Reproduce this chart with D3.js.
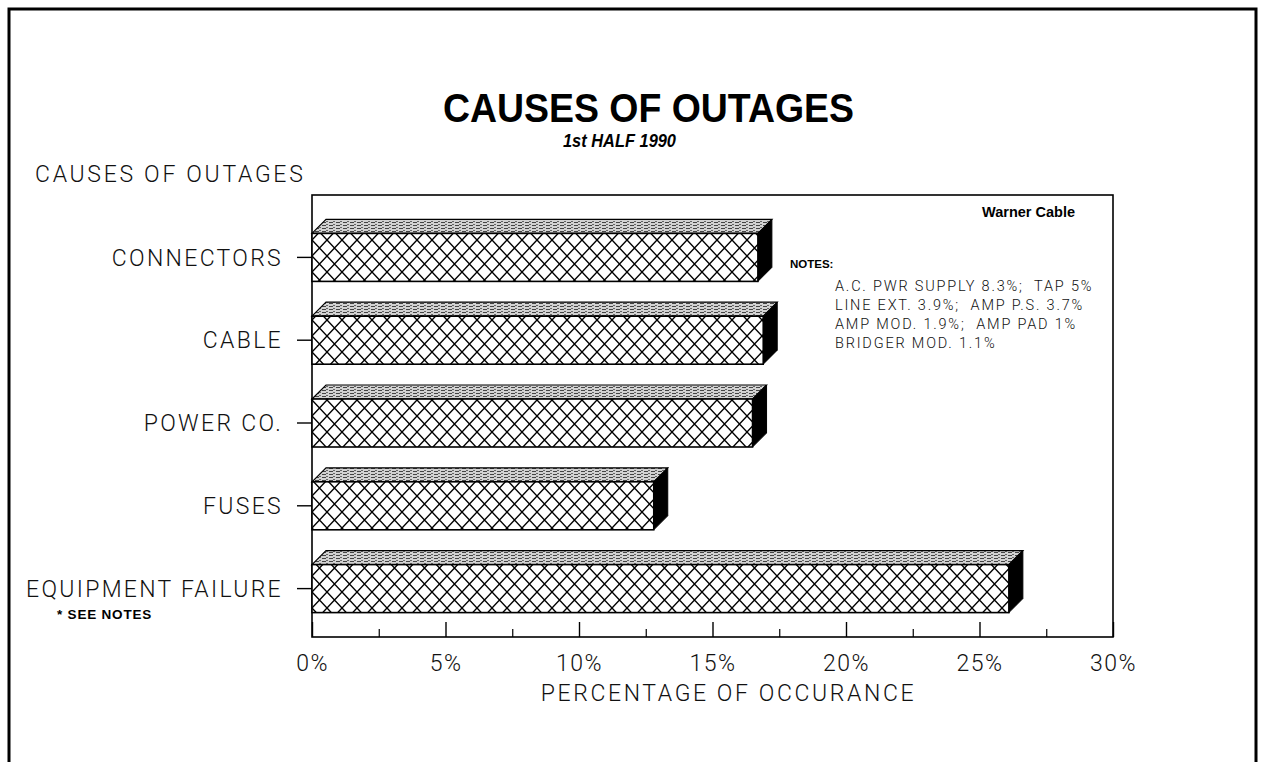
<!DOCTYPE html>
<html>
<head>
<meta charset="utf-8">
<script src="https://cdn.jsdelivr.net/npm/d3@7"></script>
<style>
  html, body { margin: 0; padding: 0; background: #fff; }
  svg { display: block; }
  .thin { font-family: "Roboto", "DejaVu Sans", sans-serif; font-weight: 300; fill: #111; }
  .bold { font-family: "Liberation Sans", Arial, sans-serif; font-weight: bold; fill: #000; }
  .pre { white-space: pre; }
</style>
</head>
<body>
<script>
// Outage causes, share of all outages (%)
const categories = ["CONNECTORS", "CABLE", "POWER CO.", "FUSES", "EQUIPMENT FAILURE"];
const shares = [16.7, 16.9, 16.5, 12.8, 26.1];
const majorTicks = [0, 5, 10, 15, 20, 25, 30];
const minorTicks = [2.5, 7.5, 12.5, 17.5, 22.5, 27.5];
const noteLines = [
  "A.C. PWR SUPPLY 8.3%;  TAP 5%",
  "LINE EXT. 3.9%;  AMP P.S. 3.7%",
  "AMP MOD. 1.9%;  AMP PAD 1%",
  "BRIDGER MOD. 1.1%"
];

const W = 1261, H = 762;
const svg = d3.select("body").append("svg").attr("width", W).attr("height", H);

// Fill patterns: cross-hatch for bar fronts, stipple for bar tops
const defs = svg.append("defs");
const hatch = defs.append("pattern")
  .attr("id", "hatch").attr("patternUnits", "userSpaceOnUse")
  .attr("width", 15).attr("height", 16).attr("x", 312).attr("y", 0);
hatch.append("rect").attr("width", 15).attr("height", 16).attr("fill", "#fff");
hatch.append("path").attr("d", "M0,0 L15,16 M15,0 L0,16")
  .attr("stroke", "#000").attr("stroke-width", 1.4).attr("fill", "none");

const stip = defs.append("pattern")
  .attr("id", "stipple").attr("patternUnits", "userSpaceOnUse")
  .attr("width", 7).attr("height", 3);
stip.append("rect").attr("width", 7).attr("height", 3).attr("fill", "#d2d2d2");
stip.append("rect").attr("x", 0).attr("y", 0).attr("width", 4).attr("height", 1).attr("fill", "#444");
stip.append("rect").attr("x", 4).attr("y", 2).attr("width", 2).attr("height", 1).attr("fill", "#666");

// Page border (open at the bottom)
svg.append("path")
  .attr("d", `M9,${H} L9,9 L1256,9 L1256,${H}`)
  .attr("fill", "none").attr("stroke", "#000").attr("stroke-width", 3);

// Titles
svg.append("text").attr("class", "bold")
  .attr("x", 443).attr("y", 122)
  .attr("font-size", 41).attr("textLength", 411).attr("lengthAdjust", "spacingAndGlyphs")
  .text("CAUSES OF OUTAGES");
svg.append("text").attr("class", "bold")
  .attr("x", 563).attr("y", 147)
  .attr("font-size", 19).attr("font-style", "italic")
  .attr("textLength", 113).attr("lengthAdjust", "spacingAndGlyphs")
  .text("1st HALF 1990");

// Plot area
const plot = { left: 312, right: 1113, top: 195, bottom: 637 };
const x = d3.scaleLinear().domain([0, 30]).range([plot.left, plot.right]);
const y = d3.scaleBand().domain(categories)
  .range([216, 630]).paddingInner(0.42).paddingOuter(0.21);

const frontH = 48, depth = 14;

// Frame
svg.append("rect")
  .attr("x", plot.left).attr("y", plot.top)
  .attr("width", plot.right - plot.left).attr("height", plot.bottom - plot.top)
  .attr("fill", "none").attr("stroke", "#000").attr("stroke-width", 1.6);

// 3-D bars
const bars = svg.append("g").selectAll("g").data(categories).join("g");
bars.each(function (c, i) {
  const g = d3.select(this);
  const cy = y(c) + y.bandwidth() / 2;
  const y0 = cy - frontH / 2, y1 = cy + frontH / 2;
  const x0 = x(0), x1 = x(shares[i]);
  // top face
  g.append("path")
    .attr("d", `M${x0},${y0} L${x0 + depth},${y0 - depth} L${x1 + depth},${y0 - depth} L${x1},${y0} Z`)
    .attr("fill", "url(#stipple)").attr("stroke", "#000").attr("stroke-width", 1.2);
  // side face
  g.append("path")
    .attr("d", `M${x1},${y0} L${x1 + depth},${y0 - depth} L${x1 + depth},${y1 - depth} L${x1},${y1} Z`)
    .attr("fill", "#000").attr("stroke", "#000").attr("stroke-width", 1);
  // front face
  g.append("rect")
    .attr("x", x0).attr("y", y0).attr("width", x1 - x0).attr("height", frontH)
    .attr("fill", "url(#hatch)").attr("stroke", "#000").attr("stroke-width", 1.6);
});

// Category axis
const yAxis = svg.append("g")
  .attr("transform", `translate(${plot.left},0)`)
  .call(d3.axisLeft(y).tickSize(15).tickPadding(14));
yAxis.select(".domain").remove();
yAxis.selectAll("line").attr("stroke", "#000").attr("stroke-width", 1.4);
yAxis.selectAll("text").attr("class", "thin").attr("font-size", 23)
  .attr("letter-spacing", 2.3).attr("fill", "#111").attr("dy", "0.36em");

// Value axis: major and minor ticks pointing up into the frame
const xAxis = svg.append("g")
  .attr("transform", `translate(0,${plot.bottom})`)
  .call(d3.axisBottom(x).tickValues(majorTicks).tickSize(-15).tickPadding(18)
    .tickFormat(d => d + "%"));
xAxis.select(".domain").remove();
xAxis.selectAll("line").attr("stroke", "#000").attr("stroke-width", 1.4);
xAxis.selectAll("text").attr("class", "thin").attr("font-size", 23)
  .attr("letter-spacing", 1.5).attr("fill", "#111");

const xMinor = svg.append("g")
  .attr("transform", `translate(0,${plot.bottom})`)
  .call(d3.axisBottom(x).tickValues(minorTicks).tickSize(-8).tickFormat(""));
xMinor.select(".domain").remove();
xMinor.selectAll("line").attr("stroke", "#000").attr("stroke-width", 1.2);

// Axis titles
svg.append("text").attr("class", "thin")
  .attr("x", 35).attr("y", 182).attr("font-size", 23).attr("letter-spacing", 2.7)
  .text("CAUSES OF OUTAGES");
svg.append("text").attr("class", "thin")
  .attr("x", (plot.left + plot.right) / 2 + 16).attr("y", 701).attr("text-anchor", "middle")
  .attr("font-size", 23).attr("letter-spacing", 2.6)
  .text("PERCENTAGE OF OCCURANCE");

svg.append("text").attr("class", "bold")
  .attr("x", 57).attr("y", 619).attr("font-size", 13.5).attr("letter-spacing", 0.8)
  .text("* SEE NOTES");

// Annotations inside the plot
svg.append("text").attr("class", "bold")
  .attr("x", 1075).attr("y", 217).attr("text-anchor", "end")
  .attr("font-size", 14.5).text("Warner Cable");
svg.append("text").attr("class", "bold")
  .attr("x", 790).attr("y", 268).attr("font-size", 11.5).text("NOTES:");
svg.append("g").selectAll("text").data(noteLines).join("text")
  .attr("class", "thin pre")
  .attr("x", 835).attr("y", (d, i) => 291 + i * 19)
  .attr("font-size", 14.5).attr("font-weight", 400).attr("letter-spacing", 1.8)
  .text(d => d);
</script>
</body>
</html>
